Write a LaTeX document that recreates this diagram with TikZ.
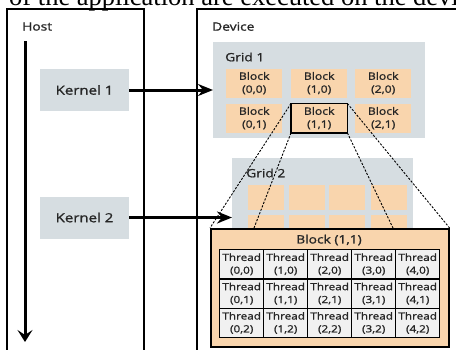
\documentclass[tikz,border=0pt]{standalone}
\usepackage{fontspec}
\setmainfont{Liberation Serif}
\newfontfamily\lbl[FakeStretch=1.2,FakeBold=1.2]{Open Sans}
\usetikzlibrary{arrows.meta}
\definecolor{panel}{HTML}{D6DDE1}
\definecolor{blockfill}{HTML}{F9D5AD}
\definecolor{threadfill}{HTML}{F1F1F1}
\definecolor{ink}{HTML}{262626}
\tikzset{
  frame/.style={draw=black,line width=1.6pt},
  panelbox/.style={fill=panel,draw=none,anchor=north west,inner sep=0pt},
  kernelbox/.style={fill=panel,draw=none,inner sep=0pt,minimum width=89pt,minimum height=42pt,
    text=ink,font=\lbl\fontsize{12.5}{14}\selectfont},
  blockbox/.style={fill=blockfill,draw=none,anchor=north west,inner sep=0pt,minimum width=56pt,
    minimum height=29pt,align=center,text=ink,font=\lbl\fontsize{10.2}{13}\selectfont},
  cellbox/.style={fill=blockfill,draw=none,anchor=north west,inner sep=0pt,minimum width=36pt,minimum height=25pt},
  threadbox/.style={fill=threadfill,draw=black,line width=1.4pt,anchor=north west,inner sep=0pt,
    minimum width=44pt,minimum height=29.3pt,align=center,text=ink,font=\lbl\fontsize{9.8}{12.8}\selectfont},
  heading/.style={anchor=west,inner sep=0pt,text=ink,font=\lbl\fontsize{11.5}{13}\selectfont},
  bigarrow/.style={line width=3pt,-{Stealth[length=15pt,width=12pt,inset=5pt]}},
  zoomline/.style={draw=black,line width=0.9pt,dash pattern=on 2.2pt off 1.5pt},
}
\begin{document}
\begin{tikzpicture}[x=1pt,y=-1pt]
\useasboundingbox (0,0) rectangle (456,349);
\clip (0,0) rectangle (456,349);

% running text of the page, cut by the top edge
\node[anchor=base west,inner sep=0pt,font=\fontsize{26.5}{30}\selectfont] (caption) at (9,5.5)
  {of the application are executed on the device};

% host and device frames
\draw[frame] (7,360) -- (7,9) -- (144,9) -- (144,360);
\draw[frame] (197,360) -- (197,9) -- (470,9);
\node[heading] (host) at (22,26.5) {Host};
\node[heading] (device) at (212,26.5) {Device};

% host timeline
\coordinate (tstart) at (25,41);
\coordinate (tend) at (25,342);
\draw[line width=3pt,-{Stealth[length=12pt,width=15pt,inset=5pt]}] (tstart) -- (tend);

% kernels
\node[kernelbox] (k1) at (84.5,90) {Kernel 1};
\node[kernelbox] (k2) at (84.5,217.5) {Kernel 2};

% grid 1
\node[panelbox,minimum width=212pt,minimum height=96pt] (g1) at (213,42) {};
\node[heading] (g1label) at (225,57) {Grid 1};
\foreach \c/\x in {0/226,1/291,2/355}{
  \node[blockbox] (b\c0) at (\x,68.5) {Block\\(\c,0)};
  \node[blockbox] (b\c1) at (\x,103.5) {Block\\(\c,1)};
}
\draw[black,line width=1.6pt] (b11.north west) rectangle (b11.south east);

% grid 2
\node[panelbox,minimum width=181pt,minimum height=100pt] (g2) at (232,158) {};
\foreach \x in {248,289,329,371}{
  \node[cellbox] at (\x,185) {};
  \node[cellbox] at (\x,215) {};
}
\node[heading] (g2label) at (246,173) {Grid 2};

% kernel launches
\draw[bigarrow] (k1.east) -- (k1.east -| g1.west);
\draw[bigarrow] (k2.east) -- (k2.east -| g2.west);

% expanded block (1,1)
\node[fill=blockfill,draw=black,line width=1.6pt,anchor=north west,inner sep=0pt,
  minimum width=238pt,minimum height=118pt] (big) at (210,228) {};
\node[text=ink,font=\lbl\fontsize{11.5}{13}\selectfont] (bigtitle) at (329,240) {Block (1,1)};
\foreach \c/\x in {0/219,1/263,2/307,3/351,4/395}{
  \foreach \r/\y in {0/249,1/278.3,2/307.6}{
    \node[threadbox] (t\c\r) at (\x,\y) {Thread\\(\c,\r)};
  }
}

% zoom guides
\coordinate (zl) at (254,228);
\coordinate (zr) at (393,228);
\draw[zoomline] (b11.north west) -- (big.north west);
\draw[zoomline] (b11.south west) -- (zl);
\draw[zoomline] (b11.south east) -- (zr);
\draw[zoomline] (b11.north east) -- (big.north east);
\end{tikzpicture}
\end{document}
